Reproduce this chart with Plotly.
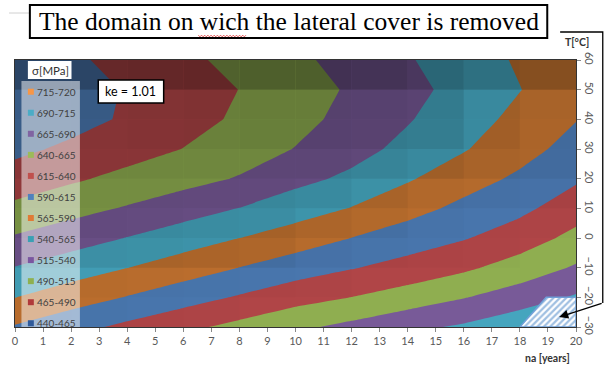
import plotly.graph_objects as go

# ---------------- data ----------------
na_years = [0, 2, 4, 6, 8, 10, 12, 14, 16, 18, 20]
temps = [-30, -20, -10, 0, 10, 20, 30, 40, 50, 60]
# stress sigma [MPa] at each (T row, na column)
sigma = [
    [592.2, 606.7, 620.7, 634.1, 647.1, 660.0, 671.5, 684.0, 693.6, 706.7, 718.0],  # T=-30
    [564.5, 578.0, 591.2, 604.4, 617.4, 630.6, 640.2, 651.5, 663.8, 677.4, 692.8],  # T=-20
    [540.9, 552.7, 564.6, 577.4, 590.3, 602.7, 613.5, 623.8, 635.5, 650.6, 667.8],  # T=-10
    [517.6, 529.1, 540.7, 552.8, 564.9, 577.0, 590.2, 602.3, 613.3, 627.4, 647.1],  # T=0
    [495.5, 506.4, 517.2, 528.8, 540.5, 553.4, 566.0, 581.0, 596.2, 609.1, 628.2],  # T=10
    [476.1, 486.4, 496.5, 506.5, 516.8, 533.0, 545.0, 562.4, 579.5, 594.4, 611.6],  # T=20
    [459.0, 470.0, 480.2, 490.4, 503.0, 515.8, 531.1, 546.9, 563.1, 580.9, 599.1],  # T=30
    [443.3, 455.8, 468.3, 480.8, 493.7, 507.6, 522.4, 538.1, 554.7, 571.6, 589.1],  # T=40
    [443.0, 454.8, 466.6, 478.4, 490.3, 504.0, 518.0, 532.8, 548.3, 564.4, 580.6],  # T=50
    [449.0, 460.9, 472.7, 484.5, 497.0, 510.0, 523.7, 537.9, 552.9, 568.0, 583.0],  # T=60
]
level_start, level_end, level_step = 465, 715, 25

legend_labels = ['715-720', '690-715', '665-690', '640-665', '615-640', '590-615',
                 '565-590', '540-565', '515-540', '490-515', '465-490', '440-465']
legend_colors = ['#F79646', '#4BACC6', '#8064A2', '#9BBB59', '#C0504D', '#4F81BD',
                 '#E07A35', '#3AA0B4', '#7A56A0', '#8EB050', '#B03A3A', '#2F5A9A']
# band fill colours, from the lowest band upwards
band_colors = ['#4A78B0', '#B04547', '#8FAE50', '#785A98', '#45A5BE', '#C0712F',
               '#4A78B0', '#B04547', '#8FAE50', '#785A98', '#45A5BE', '#C0712F']

# 3D-surface lighting (darkening per grid cell, rows from T=-30 upwards)
shade = [
    [0.04, 0.03, 0.02, 0.01, 0.00, 0.00, 0.00, 0.00, 0.00, 0.00],
    [0.06, 0.05, 0.04, 0.03, 0.02, 0.01, 0.00, 0.00, 0.00, 0.00],
    [0.13, 0.13, 0.12, 0.11, 0.09, 0.05, 0.03, 0.02, 0.01, 0.00],
    [0.17, 0.17, 0.16, 0.15, 0.14, 0.10, 0.07, 0.04, 0.02, 0.01],
    [0.19, 0.19, 0.19, 0.18, 0.18, 0.16, 0.12, 0.08, 0.06, 0.05],
    [0.22, 0.22, 0.22, 0.22, 0.22, 0.22, 0.20, 0.17, 0.12, 0.10],
    [0.23, 0.24, 0.25, 0.26, 0.27, 0.27, 0.26, 0.24, 0.16, 0.11],
    [0.24, 0.25, 0.26, 0.27, 0.28, 0.28, 0.27, 0.25, 0.17, 0.12],
    [0.42, 0.42, 0.43, 0.44, 0.45, 0.45, 0.43, 0.38, 0.32, 0.30],
]

removed_na = [18, 18.94, 20, 20, 18]
removed_T = [-30, -20, -20, -30, -30]

title_text = 'The domain on wich the lateral cover is removed'
ke_text = 'ke = 1.01'

# ---------------- figure ----------------
W, H = 608, 365
L, R, T, B = 12, 578, 60, 327


def pxx(x):
    return (x - L) / (R - L)


def pxy(y):
    return (B - y) / (B - T)


nlev = int(round((level_end - level_start) / level_step)) + 1
colorscale = [[k / nlev, band_colors[k]] for k in range(nlev + 1)]

fig = go.Figure()
fig.add_trace(go.Contour(
    x=na_years, y=temps, z=sigma,
    contours=dict(start=level_start, end=level_end, size=level_step,
                  coloring='fill', showlines=False),
    line=dict(width=0, smoothing=0),
    colorscale=colorscale, showscale=False, hoverinfo='skip'))

fig.add_trace(go.Scatter(
    x=removed_na, y=removed_T, mode='lines', fill='toself',
    line=dict(color='#6FA0D8', width=1.5),
    fillcolor='rgba(0,0,0,0)',
    fillpattern=dict(shape='/', fgcolor='#3F7FC4', bgcolor='white', size=4.5, solidity=0.5),
    hoverinfo='skip', showlegend=False))

shapes = []
annotations = []
font_main = 'Lato, Open Sans, sans-serif'

# lighting shading of the surface cells (drawn over the contour fill)
for r in range(len(temps) - 1):
    for c in range(len(na_years) - 1):
        a = shade[r][c]
        if a <= 0:
            continue
        shapes.append(dict(type='rect', xref='x', yref='y',
                           x0=na_years[c], x1=na_years[c + 1],
                           y0=temps[r], y1=temps[r + 1],
                           fillcolor='rgba(0,0,0,%.3f)' % a, line=dict(width=0),
                           layer='above'))

# legend panel
shapes.append(dict(type='rect', xref='paper', yref='paper',
                   x0=pxx(18.5), x1=pxx(77.5), y0=pxy(327), y1=pxy(81),
                   fillcolor='rgba(255,255,255,0.5)', line=dict(width=0), layer='above'))
# legend header box
shapes.append(dict(type='rect', xref='paper', yref='paper',
                   x0=pxx(25), x1=pxx(69), y0=pxy(79), y1=pxy(61),
                   fillcolor='white', line=dict(width=0), layer='above'))
annotations.append(dict(xref='paper', yref='paper', x=pxx(47.5), y=pxy(70.5),
                        text='σ[MPa]', showarrow=False, xanchor='center', yanchor='middle',
                        font=dict(family=font_main, size=11.5, color='#303030')))
for i, (lab, col) in enumerate(zip(legend_labels, legend_colors)):
    yc = 91.7 + i * 21.05
    shapes.append(dict(type='rect', xref='paper', yref='paper',
                       x0=pxx(25), x1=pxx(31), y0=pxy(yc + 3), y1=pxy(yc - 3),
                       fillcolor=col, line=dict(width=0), layer='above'))
    annotations.append(dict(xref='paper', yref='paper', x=pxx(32.5), y=pxy(yc),
                            text=lab, showarrow=False, xanchor='left', yanchor='middle',
                            font=dict(family=font_main, size=10, color='#404040')))

# ke box
shapes.append(dict(type='rect', xref='paper', yref='paper',
                   x0=pxx(96), x1=pxx(162), y0=pxy(103), y1=pxy(80),
                   fillcolor='white', line=dict(color='black', width=1.5), layer='above'))
annotations.append(dict(xref='paper', yref='paper', x=pxx(129), y=pxy(91.5),
                        text=ke_text, showarrow=False, xanchor='center', yanchor='middle',
                        font=dict(family=font_main, size=12.5, color='black')))

# title box
shapes.append(dict(type='line', xref='paper', yref='paper',
                   x0=pxx(6), x1=pxx(27), y0=pxy(13), y1=pxy(13),
                   line=dict(color='#d0d0d0', width=1)))
shapes.append(dict(type='rect', xref='paper', yref='paper',
                   x0=pxx(27), x1=pxx(549), y0=pxy(38), y1=pxy(5),
                   fillcolor='white', line=dict(color='black', width=2)))
annotations.append(dict(xref='paper', yref='paper', x=pxx(288), y=pxy(21.5),
                        text=title_text, showarrow=False, xanchor='center', yanchor='middle',
                        font=dict(family='Liberation Serif, Times New Roman, serif', size=25.5,
                                  color='black')))
# red spell-check squiggle under "wich"
pts = []
xx = 197.0
k = 0
while xx <= 245:
    pts.append((xx, 35.2 if k % 2 == 0 else 36.8))
    xx += 1.6
    k += 1
path = 'M ' + ' L '.join('%.5f,%.5f' % (pxx(a), pxy(b)) for a, b in pts)
shapes.append(dict(type='path', xref='paper', yref='paper', path=path,
                   line=dict(color='#e03030', width=0.8)))

# connector from title region to the hatched domain
conn = 'M %.5f,%.5f L %.5f,%.5f L %.5f,%.5f' % (pxx(562), pxy(32), pxx(605), pxy(32),
                                              pxx(605), pxy(303))
shapes.append(dict(type='path', xref='paper', yref='paper', path=conn,
                   line=dict(color='black', width=1.3)))
annotations.append(dict(xref='paper', yref='paper', x=pxx(561), y=pxy(317), text='',
                        showarrow=True, axref='pixel', ayref='pixel', ax=44, ay=-14,
                        arrowhead=2, arrowsize=1.4, arrowwidth=1.3, arrowcolor='black'))

# axis titles
annotations.append(dict(xref='paper', yref='paper', x=pxx(549.5), y=pxy(358),
                        text='<b>na [years]</b>', showarrow=False, xanchor='center',
                        yanchor='middle', font=dict(family=font_main, size=10.5, color='#333')))
annotations.append(dict(xref='paper', yref='paper', x=pxx(579.5), y=pxy(42.5),
                        text='<b>T[°C]</b>', showarrow=False, xanchor='center',
                        yanchor='middle', font=dict(family=font_main, size=10.5, color='#333')))

fig.update_layout(
    width=W, height=H,
    margin=dict(l=L, r=W - R, t=T, b=H - B, pad=0),
    paper_bgcolor='white', plot_bgcolor='white',
    showlegend=False,
    shapes=shapes, annotations=annotations,
    xaxis=dict(range=[0, 20], tickmode='array', tickvals=list(range(0, 21)),
               showgrid=False, zeroline=False, showline=True, linecolor='#333',
               linewidth=1, mirror=True, ticks='outside', ticklen=4, tickcolor='#888',
               tickfont=dict(family=font_main, size=11, color='#595959')),
    yaxis=dict(range=[-30, 60], side='right', tickmode='array',
               tickvals=list(range(-30, 61, 10)), tickangle=90,
               showgrid=False, zeroline=False, showline=True, linecolor='#333',
               linewidth=1, mirror=True, ticks='outside', ticklen=4, tickcolor='#888',
               tickfont=dict(family=font_main, size=11, color='#595959')),
)

fig.write_html('out.html')
